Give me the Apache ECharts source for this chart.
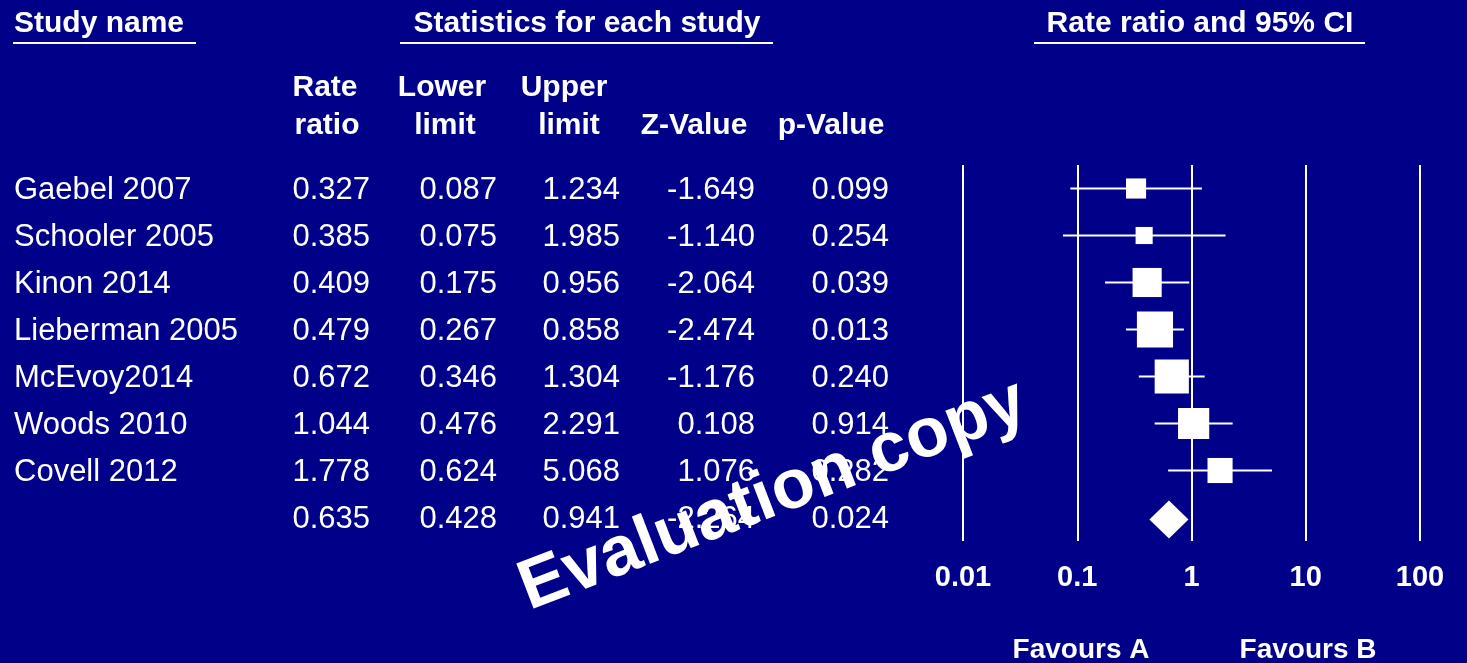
<!DOCTYPE html>
<html>
<head>
<meta charset="utf-8">
<title>Rate ratio forest plot</title>
<script src="https://cdn.jsdelivr.net/npm/echarts@6/dist/echarts.min.js"></script>
<style>
  html, body { margin: 0; padding: 0; background: #000088; }
  #chart { width: 1467px; height: 663px; }
</style>
</head>
<body>
<div id="chart"></div>
<script>
// ---- study data ----
const studies    = ['Gaebel 2007', 'Schooler 2005', 'Kinon 2014', 'Lieberman 2005', 'McEvoy2014', 'Woods 2010', 'Covell 2012'];
const rateRatio  = [0.327, 0.385, 0.409, 0.479, 0.672, 1.044, 1.778];
const lowerLimit = [0.087, 0.075, 0.175, 0.267, 0.346, 0.476, 0.624];
const upperLimit = [1.234, 1.985, 0.956, 0.858, 1.304, 2.291, 5.068];
const zValue     = [-1.649, -1.140, -2.064, -2.474, -1.176, 0.108, 1.076];
const pValue     = [0.099, 0.254, 0.039, 0.013, 0.240, 0.914, 0.282];
// relative weight (%) of each study, drives the box area
const weightPct  = [7.2, 5.2, 15.1, 23.2, 20.8, 17.3, 11.2];

// pooled estimate: rate ratio, lower, upper, Z, p
const pooled = [0.635, 0.428, 0.941, -2.264, 0.024];

// axis tick labels
const tickLabels = ['0.01', '0.1', '1', '10', '100'];

// ---- styling ----
const FONT = "'Liberation Sans', Arial, Helvetica, sans-serif";
const WHITE = '#ffffff';
const BG = '#000088';

const rowNames = studies.concat(['']);

// table columns: right edge of each numeric column
const colRight = [370, 497, 620, 755, 889];
// small downward nudge so text sits on the row centre line
const TEXT_DY = 2;

const tableRows = [];
for (let i = 0; i < studies.length; i++) {
  tableRows.push([i, rateRatio[i], lowerLimit[i], upperLimit[i], zValue[i], pValue[i]]);
}
tableRows.push([studies.length].concat(pooled));

const ciData = studies.map((s, i) => [rateRatio[i], i, lowerLimit[i], upperLimit[i], weightPct[i]]);
const pooledData = [[pooled[0], studies.length, pooled[1], pooled[2]]];

function txt(x, y, text, opts) {
  return {
    type: 'text',
    x: x, y: y,
    silent: true,
    style: Object.assign({
      text: text,
      fill: WHITE,
      font: 'bold 30px ' + FONT,
      align: 'center',
      verticalAlign: 'middle'
    }, opts || {})
  };
}
function hline(x1, x2, y) {
  return {
    type: 'line', silent: true,
    shape: { x1: x1, y1: y, x2: x2, y2: y },
    style: { stroke: WHITE, lineWidth: 2 }
  };
}

const chart = echarts.init(document.getElementById('chart'), null, { renderer: 'canvas' });

const option = {
  backgroundColor: BG,
  animation: false,
  grid: { left: 963, width: 457, top: 165, height: 376, containLabel: false },
  xAxis: {
    type: 'log',
    logBase: 10,
    min: 0.01,
    max: 100,
    splitNumber: 4,
    axisLine: { show: false },
    axisTick: { show: false },
    splitLine: { show: true, lineStyle: { color: WHITE, width: 2 } },
    axisLabel: {
      color: WHITE,
      fontFamily: FONT,
      fontWeight: 'bold',
      fontSize: 29,
      margin: 22,
      showMinLabel: true,
      showMaxLabel: true,
      formatter: function (v) {
        const k = Math.round(Math.log10(v)) + 2;
        return tickLabels[k] !== undefined ? tickLabels[k] : '';
      }
    }
  },
  yAxis: {
    type: 'category',
    data: rowNames,
    inverse: true,
    show: false
  },
  series: [
    {
      // study table: name and statistics on each row
      type: 'custom',
      clip: false,
      silent: true,
      data: tableRows,
      renderItem: function (params, api) {
        const row = api.value(0);
        const y = api.coord([1, row])[1] + TEXT_DY;
        const children = [{
          type: 'text',
          x: 14, y: y,
          style: {
            text: rowNames[row], fill: WHITE,
            font: '31px ' + FONT, align: 'left', verticalAlign: 'middle'
          }
        }];
        for (let c = 0; c < 5; c++) {
          children.push({
            type: 'text',
            x: colRight[c], y: y,
            style: {
              text: api.value(c + 1).toFixed(3), fill: WHITE,
              font: '31px ' + FONT, align: 'right', verticalAlign: 'middle'
            }
          });
        }
        return { type: 'group', children: children };
      }
    },
    {
      // confidence intervals and weighted boxes
      type: 'custom',
      clip: false,
      silent: true,
      z: 5,
      data: ciData,
      renderItem: function (params, api) {
        const row = api.value(1);
        const c = api.coord([api.value(0), row]);
        const lo = api.coord([api.value(2), row]);
        const hi = api.coord([api.value(3), row]);
        const side = 7.5 * Math.sqrt(api.value(4));
        return {
          type: 'group',
          children: [
            {
              type: 'line',
              shape: { x1: lo[0], y1: c[1], x2: hi[0], y2: c[1] },
              style: { stroke: WHITE, lineWidth: 2.2 }
            },
            {
              type: 'rect',
              shape: { x: c[0] - side / 2, y: c[1] - side / 2, width: side, height: side },
              style: { fill: WHITE }
            }
          ]
        };
      }
    },
    {
      // pooled estimate diamond
      type: 'custom',
      clip: false,
      silent: true,
      z: 5,
      data: pooledData,
      renderItem: function (params, api) {
        const row = api.value(1);
        const c = api.coord([api.value(0), row]);
        const lo = api.coord([api.value(2), row]);
        const hi = api.coord([api.value(3), row]);
        const h = 19;
        return {
          type: 'polygon',
          shape: { points: [[lo[0], c[1] + 2], [c[0], c[1] + 2 - h], [hi[0], c[1] + 2], [c[0], c[1] + 2 + h]] },
          style: { fill: WHITE }
        };
      }
    }
  ],
  graphic: [
    // group headings with rules beneath
    txt(14, 24, 'Study name', { align: 'left' }),
    hline(13, 196, 43),
    txt(587, 24, 'Statistics for each study'),
    hline(400, 773, 43),
    txt(1200, 24, 'Rate ratio and 95% CI'),
    hline(1034, 1365, 43),
    // column headings
    txt(325, 88, 'Rate'),
    txt(327, 126, 'ratio'),
    txt(442, 88, 'Lower'),
    txt(445, 126, 'limit'),
    txt(564, 88, 'Upper'),
    txt(569, 126, 'limit'),
    txt(694, 126, 'Z-Value'),
    txt(831, 126, 'p-Value'),
    // direction captions under the axis
    txt(1081, 650, 'Favours A', { font: 'bold 28px ' + FONT }),
    txt(1308, 650, 'Favours B', { font: 'bold 28px ' + FONT }),
    // watermark
    {
      type: 'text',
      x: 773, y: 496,
      rotation: 21 * Math.PI / 180,
      silent: true,
      z: 100,
      style: {
        text: 'Evaluation copy',
        fill: WHITE,
        font: 'bold 70px ' + FONT,
        align: 'center',
        verticalAlign: 'middle'
      }
    }
  ]
};

chart.setOption(option);
</script>
</body>
</html>
